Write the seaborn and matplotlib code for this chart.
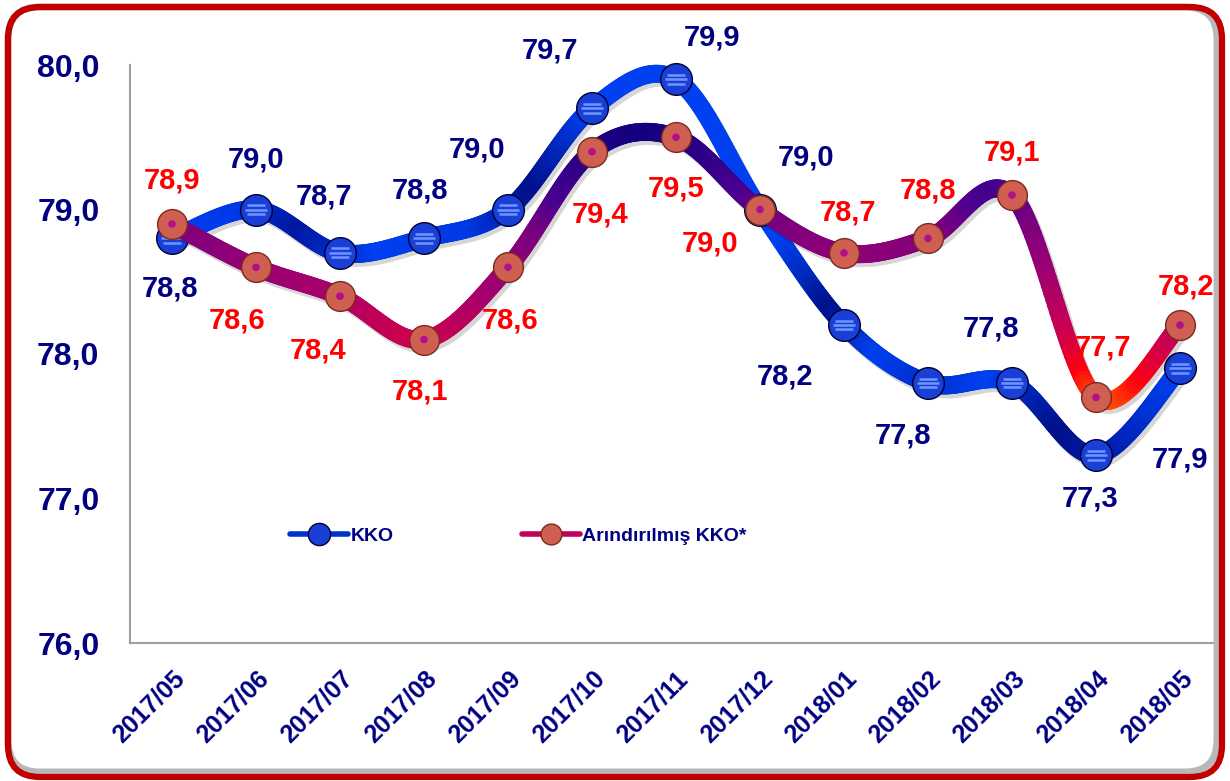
import numpy as np
import matplotlib
matplotlib.use("Agg")
import matplotlib.pyplot as plt
import seaborn as sns
from matplotlib.collections import LineCollection
from matplotlib.colors import LinearSegmentedColormap
from matplotlib.lines import Line2D
from matplotlib.patches import FancyBboxPatch
from matplotlib.path import Path
from matplotlib.transforms import IdentityTransform, offset_copy
from matplotlib.ticker import FuncFormatter

months = ["2017/05", "2017/06", "2017/07", "2017/08", "2017/09", "2017/10", "2017/11",
          "2017/12", "2018/01", "2018/02", "2018/03", "2018/04", "2018/05"]
kko = [78.8, 79.0, 78.7, 78.8, 79.0, 79.7, 79.9, 79.0, 78.2, 77.8, 77.8, 77.3, 77.9]
arind = [78.9, 78.6, 78.4, 78.1, 78.6, 79.4, 79.5, 79.0, 78.7, 78.8, 79.1, 77.7, 78.2]

# label offsets in pixels (dx, dy), dy up
kko_off = [(-2, -50), (0, 50), (-16, 56), (-4, 48), (-31, 60), (-42, 58), (36, 42),
           (46, 52), (-59, -51), (-25, -53), (-21, 54), (-6, -43), (0, -91)]
arind_off = [(0, 43), (-19, -53), (-22, -54), (-4, -52), (2, -53), (8, -63), (0, -51),
             (-50, -34), (4, 40), (0, 48), (0, 43), (7, 50), (6, 39)]

NAVY = "#000080"
RED = "#FF0000"


def smooth(x, y, n=40):
    # excel-like bezier smoothing
    p = np.column_stack([x, y]).astype(float)
    pts = np.vstack([p[0], p, p[-1]])
    out = []
    t = np.linspace(0, 1, n, endpoint=False)[:, None]
    for i in range(len(p) - 1):
        p0, p1, p2, p3 = pts[i], pts[i + 1], pts[i + 2], pts[i + 3]
        c1 = p1 + (p2 - p0) / 6
        c2 = p2 - (p3 - p1) / 6
        out.append((1 - t) ** 3 * p1 + 3 * (1 - t) ** 2 * t * c1 + 3 * (1 - t) * t ** 2 * c2 + t ** 3 * p2)
    out.append(p[-1:])
    return np.vstack(out)


def tube(ax, xy, colors, lw, z):
    sh = offset_copy(ax.transData, fig=ax.figure, x=3, y=-4, units="dots")
    ax.plot(xy[:, 0], xy[:, 1], color="#000000", alpha=0.16, lw=lw, transform=sh,
            solid_capstyle="round", clip_on=False, zorder=z - 0.5)
    segs = np.stack([xy[:-1], xy[1:]], axis=1)
    lc = LineCollection(segs, colors=colors, linewidths=lw, capstyle="round",
                        joinstyle="round", clip_on=False, zorder=z)
    ax.add_collection(lc)


sns.set_style("white")
plt.rcParams["font.family"] = ["Liberation Sans", "DejaVu Sans"]
plt.rcParams["font.weight"] = "bold"

fig = plt.figure(figsize=(12.3, 7.81), dpi=100)
ax = fig.add_axes([130 / 1230, 1 - 643 / 781, 1092 / 1230, 578 / 781])

idx = np.arange(len(months))

# KKO line
blue_cmap = LinearSegmentedColormap.from_list("kko", [
    (0.0, "#0040F0"), (0.8 / 12, "#0038E8"), (1.5 / 12, "#0018A0"), (2.5 / 12, "#0040F0"),
    (3.6 / 12, "#0038E4"), (4.3 / 12, "#00108A"), (5.0 / 12, "#0040F0"), (7.3 / 12, "#0040F0"),
    (7.85 / 12, "#00108A"), (8.4 / 12, "#0040F0"), (9.0 / 12, "#0030D0"), (9.8 / 12, "#0040F0"),
    (10.6 / 12, "#00108A"), (11.3 / 12, "#0020B0"), (12 / 12, "#0040F0")])
xy1 = smooth(idx, kko)
mid1 = (xy1[:-1, 0] + xy1[1:, 0]) / 2
tube(ax, xy1, blue_cmap(mid1 / 12), 13, 2)

sns.scatterplot(x=idx, y=kko, ax=ax, s=520, color="#1A3FD6", edgecolor="#000033",
                linewidth=1.0, zorder=3, clip_on=False, legend=False)
stripes = Path([(-0.7, -0.35), (0.7, -0.35), (-0.9, 0.0), (0.9, 0.0), (-0.7, 0.35), (0.7, 0.35)],
               [Path.MOVETO, Path.LINETO, Path.MOVETO, Path.LINETO, Path.MOVETO, Path.LINETO])
ax.scatter(idx, kko, s=260, marker=stripes, facecolors="none", edgecolors="#6F95FF",
           linewidths=1.8, zorder=3.2, clip_on=False)

# Arindirilmis line (vertical gradient)
red_cmap = LinearSegmentedColormap.from_list("ark", [
    (0.0, "#FF7000"), (0.12, "#FF0010"), (0.25, "#CC0050"), (0.45, "#A00070"),
    (0.65, "#780080"), (0.75, "#4A0090"), (1.0, "#10007E")])
xy2 = smooth(idx, arind)
mid2 = (xy2[:-1, 1] + xy2[1:, 1]) / 2
tube(ax, xy2, red_cmap(np.clip((mid2 - 77.6) / 2.0, 0, 1)), 13, 4)

sns.scatterplot(x=idx, y=arind, ax=ax, s=460, color="#CF5F50", edgecolor="#7A2A20",
                linewidth=1.0, zorder=5, clip_on=False, legend=False)
sns.scatterplot(x=idx, y=arind, ax=ax, s=30, color="#B0108A", edgecolor="none",
                zorder=6, clip_on=False, legend=False)

# data labels
for i in idx:
    ax.annotate(f"{kko[i]:.1f}".replace(".", ","), (i, kko[i]), xytext=kko_off[i],
                textcoords="offset pixels", ha="center", va="center", color=NAVY,
                fontsize=21, fontweight="bold", zorder=7)
    ax.annotate(f"{arind[i]:.1f}".replace(".", ","), (i, arind[i]), xytext=arind_off[i],
                textcoords="offset pixels", ha="center", va="center", color=RED,
                fontsize=21, fontweight="bold", zorder=7)

# axes
ax.set_xlim(-0.5, 12.5)
ax.set_ylim(76, 80)
ax.set_yticks([76, 77, 78, 79, 80])
ax.yaxis.set_major_formatter(FuncFormatter(lambda v, p: f"{v:.1f}".replace(".", ",")))
ax.set_xticks(idx)
ax.set_xticklabels(months, rotation=45, ha="right", rotation_mode="anchor")
ax.set_xticks(np.arange(-0.5, 13, 1), minor=True)
ax.tick_params(axis="x", which="major", length=0, pad=17, labelsize=18, labelcolor=NAVY)
ax.tick_params(axis="x", which="minor", length=6, width=1.5, color="#A0A0A0", direction="out")
ax.tick_params(axis="y", which="major", length=6, width=1.5, color="#A0A0A0", direction="out",
               pad=16, labelsize=23, labelcolor=NAVY)
for lab in ax.get_xticklabels() + ax.get_yticklabels():
    lab.set_fontweight("bold")
for s in ["top", "right"]:
    ax.spines[s].set_visible(False)
for s in ["left", "bottom"]:
    ax.spines[s].set_color("#A0A0A0")
    ax.spines[s].set_linewidth(1.5)
ax.set_xlabel("")
ax.set_ylabel("")

# legend
h1 = Line2D([], [], color="#0033CC", lw=4, marker="o", ms=16, mfc="#1A3FD6", mec="#000033")
h2 = Line2D([], [], color="#C0005A", lw=4, marker="o", ms=15, mfc="#CF5F50", mec="#7A2A20")
leg = ax.legend([h1, h2], ["KKO", "Arındırılmış KKO*"], ncol=2, frameon=False,
                loc="center left", bbox_to_anchor=(290 / 1230, 1 - 536 / 781),
                bbox_transform=fig.transFigure, prop={"size": 14, "weight": "bold"},
                handlelength=3.0, handletextpad=0.1, columnspacing=6.6,
                borderpad=0, borderaxespad=0)
for t in leg.get_texts():
    t.set_color(NAVY)

# rounded red frame with inner shadow
shadow = FancyBboxPatch((8, 9), 1209, 765, boxstyle="round,pad=0,rounding_size=32",
                        transform=IdentityTransform(), fill=False, ec="#B8B8B8", lw=5)
frame = FancyBboxPatch((8, 4), 1214, 770, boxstyle="round,pad=0,rounding_size=32",
                       transform=IdentityTransform(), fill=False, ec="#C00000", lw=4.5)
fig.add_artist(shadow)
fig.add_artist(frame)

fig.savefig("out.png", dpi=100)
